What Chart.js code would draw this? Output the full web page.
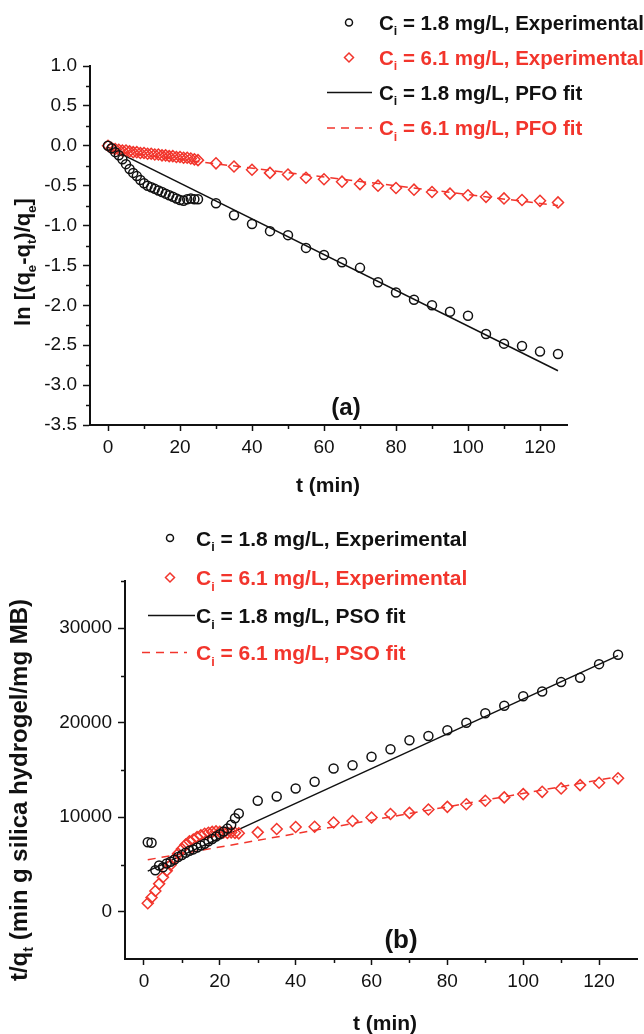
<!DOCTYPE html>
<html>
<head>
<meta charset="utf-8">
<script src="https://cdn.jsdelivr.net/npm/chart.js@4.4.1/dist/chart.umd.min.js"></script>
<style>
html, body { margin: 0; padding: 0; background: #fff; overflow: hidden; }
#wrap { position: relative; width: 644px; height: 1034px; }
canvas { position: absolute; left: 0; }
#pfo { top: 0; }
#pso { top: 500px; }
</style>
</head>
<body>
<div id="wrap">
  <canvas id="pfo" width="644" height="500"></canvas>
  <canvas id="pso" width="644" height="534"></canvas>
</div>
<script>
const FONT = '"Liberation Sans", Arial, sans-serif';
const RED = '#f2352c';
const INK = '#111';

// sampling times (min)
const tEarly = [0, 1, 2, 3, 4, 5, 6, 7, 8, 9, 10, 11, 12, 13, 14, 15, 16, 17, 18, 19, 20, 21, 22, 23, 24, 25];
const tEarlyB = [1, 2, 3, 4, 5, 6, 7, 8, 9, 10, 11, 12, 13, 14, 15, 16, 17, 18, 19, 20, 21, 22, 23, 24, 25];
const tLate = [30, 35, 40, 45, 50, 55, 60, 65, 70, 75, 80, 85, 90, 95, 100, 105, 110, 115, 120, 125];

// (a) ln[(qe-qt)/qe]
const pfoLow = [0, -0.03, -0.08, -0.12, -0.17, -0.23, -0.29, -0.34, -0.38, -0.43, -0.47, -0.5, -0.52,
  -0.54, -0.56, -0.58, -0.6, -0.62, -0.64, -0.66, -0.68, -0.69, -0.67, -0.66, -0.67, -0.67,
  -0.72, -0.87, -0.98, -1.07, -1.12, -1.28, -1.37, -1.46, -1.53, -1.71, -1.84, -1.93, -2.0,
  -2.08, -2.13, -2.36, -2.48, -2.51, -2.58, -2.61];
const pfoHigh = [0, -0.03, -0.04, -0.05, -0.06, -0.06, -0.07, -0.08, -0.08, -0.09, -0.09, -0.1, -0.1,
  -0.11, -0.11, -0.12, -0.12, -0.13, -0.13, -0.14, -0.14, -0.15, -0.15, -0.16, -0.17, -0.18,
  -0.22, -0.26, -0.3, -0.34, -0.36, -0.4, -0.42, -0.45, -0.48, -0.5, -0.53, -0.55, -0.58,
  -0.6, -0.62, -0.64, -0.66, -0.68, -0.69, -0.71];
const pfoFitT = [0, 125];
const pfoFitLow = [-0.02, -2.82];
const pfoFitHigh = [-0.06, -0.75];

// (b) t/qt
const psoLow = [7350, 7300, 4400, 4900, 4700, 5100, 5300, 5500, 5800, 6000, 6250, 6450, 6600,
  6800, 7000, 7200, 7450, 7700, 7950, 8200, 8500, 8800, 9200, 9900, 10400,
  11750, 12200, 13050, 13750, 15150, 15500, 16400, 17200, 18150, 18600, 19200, 20000, 21000,
  21800, 22800, 23300, 24300, 24750, 26200, 27200];
const psoHigh = [900, 1500, 2200, 2950, 3650, 4350, 4950, 5600, 6150, 6650, 7100, 7450, 7650,
  7900, 8100, 8250, 8350, 8450, 8500, 8450, 8400, 8350, 8400, 8350, 8300,
  8400, 8750, 8970, 9000, 9450, 9600, 9970, 10350, 10460, 10820, 11100, 11380, 11740,
  12100, 12450, 12690, 13050, 13400, 13650, 14120];
const psoFitT = [1, 125];
const psoFitLow = [4300, 27100];
const psoFitHigh = [5500, 14300];

// axis ticks
const xMajor = [0, 20, 40, 60, 80, 100, 120];
const xMinor = [10, 30, 50, 70, 90, 110];
const yMajorA = [-3.5, -3.0, -2.5, -2.0, -1.5, -1.0, -0.5, 0.0, 0.5, 1.0];
const yMinorA = [-3.25, -2.75, -2.25, -1.75, -1.25, -0.75, -0.25, 0.25, 0.75];
const yMajorB = [0, 10000, 20000, 30000];
const yMinorB = [5000, 15000, 25000, 35000];

const labels = {
  low: 'C_i = 1.8 mg/L, Experimental',
  high: 'C_i = 6.1 mg/L, Experimental',
  pfoLow: 'C_i = 1.8 mg/L, PFO fit',
  pfoHigh: 'C_i = 6.1 mg/L, PFO fit',
  psoLow: 'C_i = 1.8 mg/L, PSO fit',
  psoHigh: 'C_i = 6.1 mg/L, PSO fit'
};

function pts(xs, ys) {
  return xs.map((x, i) => ({ x: x, y: ys[i] }));
}

// "_x" puts the single char x in subscript
function splitSub(str) {
  const parts = [];
  for (let i = 0; i < str.length; i++) {
    if (str[i] === '_') {
      parts.push({ t: str[i + 1], sub: true });
      i++;
    } else if (parts.length && !parts[parts.length - 1].sub) {
      parts[parts.length - 1].t += str[i];
    } else {
      parts.push({ t: str[i], sub: false });
    }
  }
  return parts;
}

function drawRich(ctx, str, x, y, size, color, align) {
  const parts = splitSub(str);
  const subSize = size * 0.6;
  let w = 0;
  parts.forEach(p => {
    ctx.font = 'bold ' + (p.sub ? subSize : size) + 'px ' + FONT;
    p.w = ctx.measureText(p.t).width;
    w += p.w;
  });
  let cx = align === 'center' ? x - w / 2 : x;
  ctx.fillStyle = color;
  ctx.textAlign = 'left';
  ctx.textBaseline = 'alphabetic';
  parts.forEach(p => {
    ctx.font = 'bold ' + (p.sub ? subSize : size) + 'px ' + FONT;
    ctx.fillText(p.t, cx, p.sub ? y + size * 0.26 : y);
    cx += p.w;
  });
}

// minor ticks, titles and the legend block
const decor = {
  id: 'decor',
  afterDraw(chart, args, o) {
    const ctx = chart.ctx;
    const xs = chart.scales.x, ys = chart.scales.y;
    ctx.save();
    ctx.strokeStyle = INK;
    ctx.lineWidth = 1.5;
    o.xMinor.forEach(v => {
      const p = Math.round(xs.getPixelForValue(v)) + 0.5;
      ctx.beginPath(); ctx.moveTo(p, xs.top); ctx.lineTo(p, xs.top + 4); ctx.stroke();
    });
    o.yMinor.forEach(v => {
      const p = Math.round(ys.getPixelForValue(v)) + 0.5;
      ctx.beginPath(); ctx.moveTo(ys.right, p); ctx.lineTo(ys.right - 4, p); ctx.stroke();
    });

    o.titles.forEach(t => {
      ctx.save();
      ctx.translate(t.x, t.y);
      if (t.rotate) ctx.rotate(-Math.PI / 2);
      drawRich(ctx, t.text, 0, 0, t.size, INK, 'center');
      ctx.restore();
    });

    const L = o.legend;
    chart.data.datasets.forEach((ds, i) => {
      const y = L.rows[i];
      ctx.strokeStyle = ds.borderColor;
      ctx.fillStyle = 'rgba(0,0,0,0)';
      ctx.lineWidth = 1.5;
      if (ds.showLine) {
        ctx.setLineDash(ds.borderDash || []);
        const seg = ds.borderDash ? L.dash : L.line;
        ctx.beginPath(); ctx.moveTo(seg[0], y); ctx.lineTo(seg[1], y); ctx.stroke();
        ctx.setLineDash([]);
      } else {
        Chart.helpers.drawPoint(ctx, {
          pointStyle: ds.pointStyle, radius: ds.pointRadius - 1, rotation: 0, borderWidth: 1.5
        }, L.mark, y);
      }
      drawRich(ctx, ds.label, L.text, y + L.size * 0.36, L.size, ds.borderColor, 'left');
    });
    ctx.restore();
  }
};

function xAxis(max) {
  return {
    type: 'linear', min: -5, max: max,
    afterBuildTicks: s => { s.ticks = xMajor.map(v => ({ value: v })); },
    afterFit: s => { s.height = 75; },
    ticks: { color: INK, font: { family: FONT, size: 19 }, padding: 5, maxRotation: 0, autoSkip: false },
    grid: { drawOnChartArea: false, drawTicks: true, tickLength: 6, tickWidth: 1.5, tickColor: INK },
    border: { display: true, color: INK, width: 2 }
  };
}

function yAxis(min, max, major, width, fmt) {
  return {
    type: 'linear', min: min, max: max,
    afterBuildTicks: s => { s.ticks = major.map(v => ({ value: v })); },
    afterFit: s => { s.width = width; },
    ticks: { color: INK, font: { family: FONT, size: 19 }, padding: 6, autoSkip: false, callback: fmt },
    grid: { drawOnChartArea: false, drawTicks: true, tickLength: 7, tickWidth: 1.5, tickColor: INK },
    border: { display: true, color: INK, width: 2 }
  };
}

function markSet(label, xs, ys, color, style, r) {
  return {
    label: label, data: pts(xs, ys), showLine: false,
    pointStyle: style, pointRadius: r, pointBorderWidth: 1.5,
    borderColor: color, backgroundColor: 'rgba(0,0,0,0)'
  };
}

function fitSet(label, xs, ys, color, dash) {
  return {
    label: label, data: pts(xs, ys), showLine: true, pointRadius: 0,
    borderColor: color, borderWidth: 1.5, borderDash: dash, fill: false
  };
}

const tA = tEarly.concat(tLate);
const tB = tEarlyB.concat(tLate);

new Chart(document.getElementById('pfo'), {
  type: 'scatter',
  data: {
    datasets: [
      markSet(labels.low, tA, pfoLow, INK, 'circle', 4.5),
      markSet(labels.high, tA, pfoHigh, RED, 'rectRot', 5.5),
      fitSet(labels.pfoLow, pfoFitT, pfoFitLow, INK, undefined),
      fitSet(labels.pfoHigh, pfoFitT, pfoFitHigh, RED, [8, 6])
    ]
  },
  options: {
    responsive: false, animation: false,
    layout: { padding: { top: 66, right: 77, left: 0, bottom: 0 } },
    plugins: {
      legend: { display: false }, tooltip: { enabled: false },
      decor: {
        xMinor: xMinor, yMinor: yMinorA,
        titles: [
          { text: 't (min)', x: 328, y: 492, size: 21 },
          { text: '(a)', x: 346, y: 415, size: 24 },
          { text: 'ln [(q_e-q_t)/q_e]', x: 30, y: 262, size: 22, rotate: true }
        ],
        legend: { rows: [22.5, 57.5, 92.5, 128], mark: 349, text: 379, line: [327, 372], dash: [327, 372], size: 20.5 }
      }
    },
    scales: {
      x: xAxis(127.5),
      y: yAxis(-3.5, 1.0, yMajorA, 90, v => v.toFixed(1))
    }
  },
  plugins: [decor]
});

new Chart(document.getElementById('pso'), {
  type: 'scatter',
  data: {
    datasets: [
      markSet(labels.low, tB, psoLow, INK, 'circle', 4.5),
      markSet(labels.high, tB, psoHigh, RED, 'rectRot', 5.5),
      fitSet(labels.psoLow, psoFitT, psoFitLow, INK, undefined),
      fitSet(labels.psoHigh, psoFitT, psoFitHigh, RED, [8, 6])
    ]
  },
  options: {
    responsive: false, animation: false,
    layout: { padding: { top: 81, right: 0, left: 0, bottom: 0 } },
    plugins: {
      legend: { display: false }, tooltip: { enabled: false },
      decor: {
        xMinor: xMinor, yMinor: yMinorB,
        titles: [
          { text: 't (min)', x: 385, y: 530, size: 21 },
          { text: '(b)', x: 401, y: 448, size: 26 },
          { text: 't/q_t (min g silica hydrogel/mg MB)', x: 27, y: 290, size: 24, rotate: true }
        ],
        legend: { rows: [38, 77.5, 115.5, 152.5], mark: 170, text: 196, line: [148, 195], dash: [142, 187], size: 21 }
      }
    },
    scales: {
      x: xAxis(130),
      y: yAxis(-5000, 35000, yMajorB, 125, v => String(v))
    }
  },
  plugins: [decor]
});
</script>
</body>
</html>
